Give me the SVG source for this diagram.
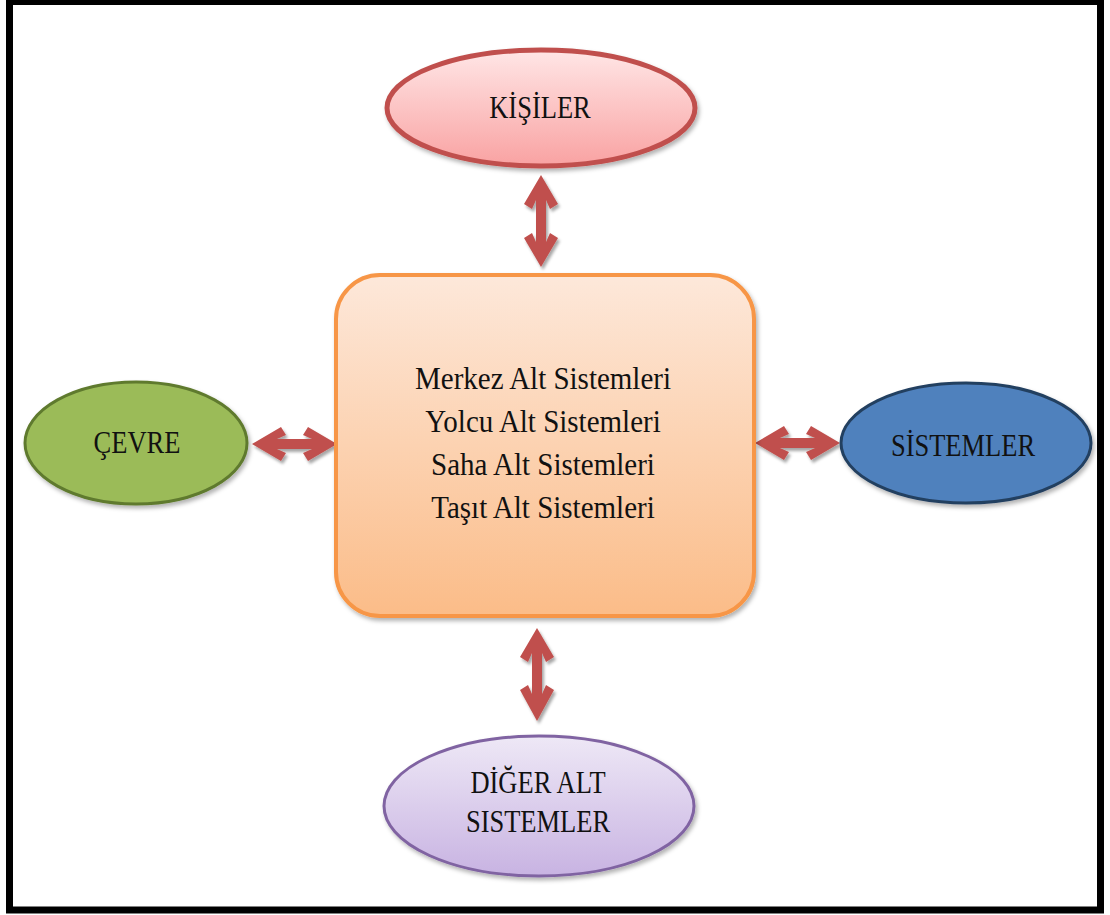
<svg xmlns="http://www.w3.org/2000/svg" width="1110" height="915" viewBox="0 0 1110 915">
  <defs>
    <linearGradient id="gPink" x1="0" y1="0" x2="0" y2="1">
      <stop offset="0" stop-color="#ffe6e6"/>
      <stop offset="1" stop-color="#f9a2a2"/>
    </linearGradient>
    <linearGradient id="gOrange" x1="0" y1="0" x2="0" y2="1">
      <stop offset="0" stop-color="#fde8da"/>
      <stop offset="1" stop-color="#fbbc88"/>
    </linearGradient>
    <linearGradient id="gPurple" x1="0" y1="0" x2="0" y2="1">
      <stop offset="0" stop-color="#eee8f6"/>
      <stop offset="1" stop-color="#c8b3e2"/>
    </linearGradient>
    <filter id="shadow" x="-20%" y="-20%" width="140%" height="150%">
      <feDropShadow dx="2" dy="3" stdDeviation="2" flood-color="#000" flood-opacity="0.3"/>
    </filter>
    <filter id="arrowShadow" x="-40%" y="-40%" width="180%" height="180%">
      <feDropShadow dx="2" dy="3" stdDeviation="1.5" flood-color="#000" flood-opacity="0.35"/>
    </filter>
  </defs>
  <style>
    .lbl { font-family: "Liberation Serif", "Times New Roman", serif; fill: #111; text-anchor: middle; }
    .node-lbl { font-size: 26.5px; }
    .body-lbl { font-size: 29px; }
    .arrow { fill: #c0504d; filter: url(#arrowShadow); }
  </style>

  <!-- outer frame -->
  <rect x="9.5" y="1.5" width="1091" height="908.5" fill="#ffffff" stroke="#000000" stroke-width="7"/>

  <!-- connectors: double-headed block arrows -->
  <g id="connectors">
    <polygon class="arrow" points="541,175 558,204 550,209 546,200 546,242 550,233 558,238 541,267 524,238 532,233 536,242 536,200 532,209 524,204"/>
    <polygon class="arrow" points="537,628 554,657 546,662 542,653 542,694 546,685 554,690 537,721 520,690 528,685 532,694 532,653 528,662 520,657"/>
    <polygon class="arrow" points="252,444 281,427 286,435 277,439 312,439 303,435 308,427 337,444 308,461 303,453 312,449 277,449 286,453 281,461"/>
    <polygon class="arrow" points="755,443 784,426 789,434 780,438 815,438 806,434 811,426 840,443 811,460 806,452 815,448 780,448 789,452 784,460"/>
  </g>

  <!-- central subsystem block -->
  <g id="center">
    <rect x="336" y="275" width="418" height="341" rx="44" ry="44" fill="url(#gOrange)" stroke="#f79646" stroke-width="4" filter="url(#shadow)"/>
    <g transform="translate(543,0)">
      <text class="lbl body-lbl" transform="translate(0,389) scale(1,1.1)">Merkez Alt Sistemleri</text>
      <text class="lbl body-lbl" transform="translate(0,432) scale(1,1.1)">Yolcu Alt Sistemleri</text>
      <text class="lbl body-lbl" transform="translate(0,475) scale(1,1.1)">Saha Alt Sistemleri</text>
      <text class="lbl body-lbl" transform="translate(0,518) scale(1,1.1)">Taşıt Alt Sistemleri</text>
    </g>
  </g>

  <!-- people -->
  <g id="kisiler">
    <ellipse cx="541" cy="108" rx="154" ry="58" fill="url(#gPink)" stroke="#c0504d" stroke-width="5" filter="url(#shadow)"/>
    <text class="lbl node-lbl" transform="translate(540,118) scale(1,1.18)">KİŞİLER</text>
  </g>

  <!-- environment -->
  <g id="cevre">
    <ellipse cx="136" cy="443" rx="111" ry="61" fill="#9bbb59" stroke="#5f7a2e" stroke-width="3" filter="url(#shadow)"/>
    <text class="lbl node-lbl" transform="translate(137,453) scale(1,1.18)">ÇEVRE</text>
  </g>

  <!-- systems -->
  <g id="sistemler">
    <ellipse cx="966" cy="443" rx="125" ry="60" fill="#4f81bd" stroke="#243f60" stroke-width="3" filter="url(#shadow)"/>
    <text class="lbl node-lbl" transform="translate(963,456) scale(1,1.18)">SİSTEMLER</text>
  </g>

  <!-- other subsystems -->
  <g id="diger">
    <ellipse cx="539" cy="806" rx="155" ry="70" fill="url(#gPurple)" stroke="#8064a2" stroke-width="3" filter="url(#shadow)"/>
    <text class="lbl node-lbl" transform="translate(538,793) scale(1,1.18)">DİĞER ALT</text>
    <text class="lbl node-lbl" transform="translate(538,832) scale(1,1.18)">SISTEMLER</text>
  </g>
</svg>
